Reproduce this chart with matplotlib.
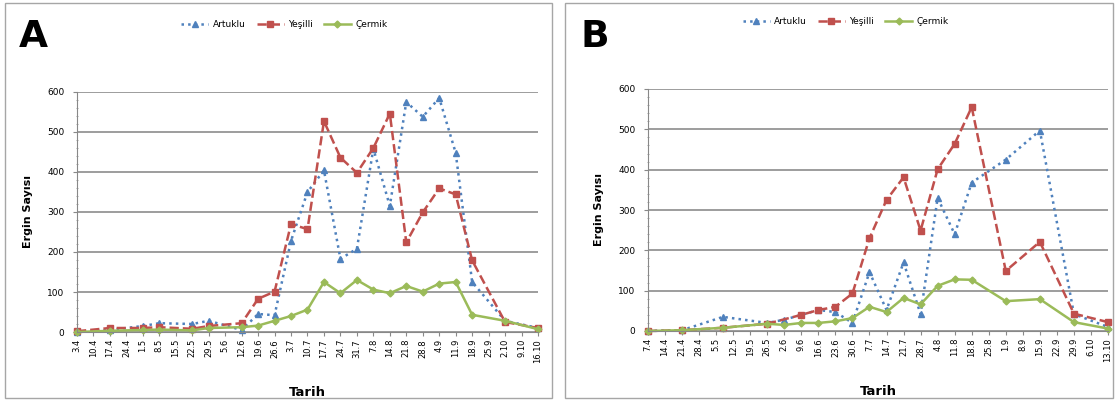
import matplotlib.pyplot as plt
import matplotlib.patches as mpatches
import numpy as np

# --- panel A data (x = weeks after first date label) ---
labels_a = ['3.4', '10.4', '17.4', '24.4', '1.5', '8.5', '15.5', '22.5', '29.5', '5.6',
            '12.6', '19.6', '26.6', '3.7', '10.7', '17.7', '24.7', '31.7', '7.8', '14.8',
            '21.8', '28.8', '4.9', '11.9', '18.9', '25.9', '2.10', '9.10', '16.10']
weeks_a = [0, 2, 4, 5, 7, 8, 10, 11, 12, 13, 14, 15, 16, 17, 18, 19, 20, 21, 22, 23, 24, 26, 28]
artuklu_a = [0, 5, 15, 22, 20, 28, 5, 45, 42, 228, 350, 404, 183, 208, 458, 315, 575, 538, 585, 448, 125, 28, 10]
yesilli_a = [2, 10, 10, 12, 8, 15, 22, 83, 101, 270, 257, 527, 436, 398, 460, 546, 224, 299, 359, 344, 179, 25, 10]
cermik_a = [0, 3, 5, 6, 4, 10, 12, 16, 28, 40, 56, 125, 97, 130, 106, 97, 115, 101, 121, 125, 43, 28, 7]

# --- panel B data ---
labels_b = ['7.4', '14.4', '21.4', '28.4', '5.5', '12.5', '19.5', '26.5', '2.6', '9.6',
            '16.6', '23.6', '30.6', '7.7', '14.7', '21.7', '28.7', '4.8', '11.8', '18.8',
            '25.8', '1.9', '8.9', '15.9', '22.9', '29.9', '6.10', '13.10']
weeks_art_b = [0, 2, 4.4, 7, 8, 10, 11, 12, 13, 14, 15, 16, 17, 18, 19, 21, 23, 25, 27]
artuklu_b = [0, 2, 35, 20, 28, 52, 47, 20, 146, 52, 170, 42, 330, 240, 368, 425, 497, 42, 10]
weeks_yes_b = [0, 2, 4.4, 7, 9, 10, 11, 12, 13, 14, 15, 16, 17, 18, 19, 21, 23, 25, 27]
yesilli_b = [0, 2, 8, 18, 40, 52, 60, 93, 230, 325, 381, 249, 401, 464, 555, 149, 221, 43, 22]
weeks_cer_b = [0, 2, 4.4, 7, 8, 9, 10, 11, 12, 13, 14, 15, 16, 17, 18, 19, 21, 23, 25, 27]
cermik_b = [0, 2, 8, 18, 15, 20, 20, 24, 32, 60, 47, 82, 66, 112, 128, 127, 74, 79, 22, 6]

blue = '#4F81BD'
red = '#C0504D'
green = '#9BBB59'
W, H = 1118, 401

fig = plt.figure(figsize=(W / 100, H / 100), dpi=100)
plt.rcParams['font.family'] = 'DejaVu Sans'

# panel frames
for x0, x1 in [(5, 552), (565, 1113)]:
    fig.patches.append(mpatches.Rectangle((x0 / W, 3 / H), (x1 - x0) / W, 395 / H,
                                          transform=fig.transFigure, fill=False,
                                          edgecolor='#A6A6A6', linewidth=1))


def panel(rect, labels, series, letter, letter_x, legend_x):
    ax = fig.add_axes(rect)
    for (wk, vals, col, ls, mk, ms, name) in series:
        ax.plot(wk, vals, color=col, linestyle=ls, marker=mk, markersize=ms,
                linewidth=1.8, label=name, clip_on=False,
                markeredgecolor=col, markerfacecolor=col)
    ax.set_xlim(0, len(labels) - 1)
    ax.set_ylim(0, 600)
    ax.set_xticks(range(len(labels)))
    ax.set_xticklabels(labels, rotation=90, fontsize=6)
    ax.set_yticks(range(0, 601, 100))
    ax.set_yticks(range(0, 601, 20), minor=True)
    ax.tick_params(axis='y', labelsize=6.5, length=3, color='#888888', pad=6)
    ax.tick_params(axis='y', which='minor', length=2, direction='inout', color='#999999')
    ax.tick_params(axis='x', length=3, color='#888888', pad=2)
    ax.grid(axis='y', color='#8C8C8C', linewidth=1.2)
    ax.set_axisbelow(True)
    for s in ['top', 'right']:
        ax.spines[s].set_visible(False)
    ax.spines['left'].set_color('#888888')
    ax.spines['bottom'].set_color('#888888')
    ax.set_ylabel('Ergin Sayısı', fontsize=8, fontweight='bold')
    ax.yaxis.set_label_coords(-0.095, 0.5)
    ax.set_xlabel('Tarih', fontsize=9.5, fontweight='bold')
    ax.xaxis.set_label_coords(0.5, -0.225)
    ax.legend(loc='center', bbox_to_anchor=(legend_x, 1.28), ncol=3, frameon=False,
              fontsize=6.5, handlelength=3, columnspacing=1.2, handletextpad=0.5)
    fig.text(letter_x / W, 1 - 19 / H, letter, fontsize=27, fontweight='bold',
             ha='left', va='top')
    return ax


panel([77 / W, 69 / H, 461 / W, 240 / H], labels_a, [
    (weeks_a, artuklu_a, blue, ':', '^', 5, 'Artuklu'),
    (weeks_a, yesilli_a, red, '--', 's', 4.5, 'Yeşilli'),
    (weeks_a, cermik_a, green, '-', 'D', 3.5, 'Çermik'),
], 'A', 19, 0.45)

panel([648 / W, 70 / H, 460 / W, 242 / H], labels_b, [
    (weeks_art_b, artuklu_b, blue, ':', '^', 5, 'Artuklu'),
    (weeks_yes_b, yesilli_b, red, '--', 's', 4.5, 'Yeşilli'),
    (weeks_cer_b, cermik_b, green, '-', 'D', 3.5, 'Çermik'),
], 'B', 580, 0.43)

fig.savefig('out.png', dpi=100)
